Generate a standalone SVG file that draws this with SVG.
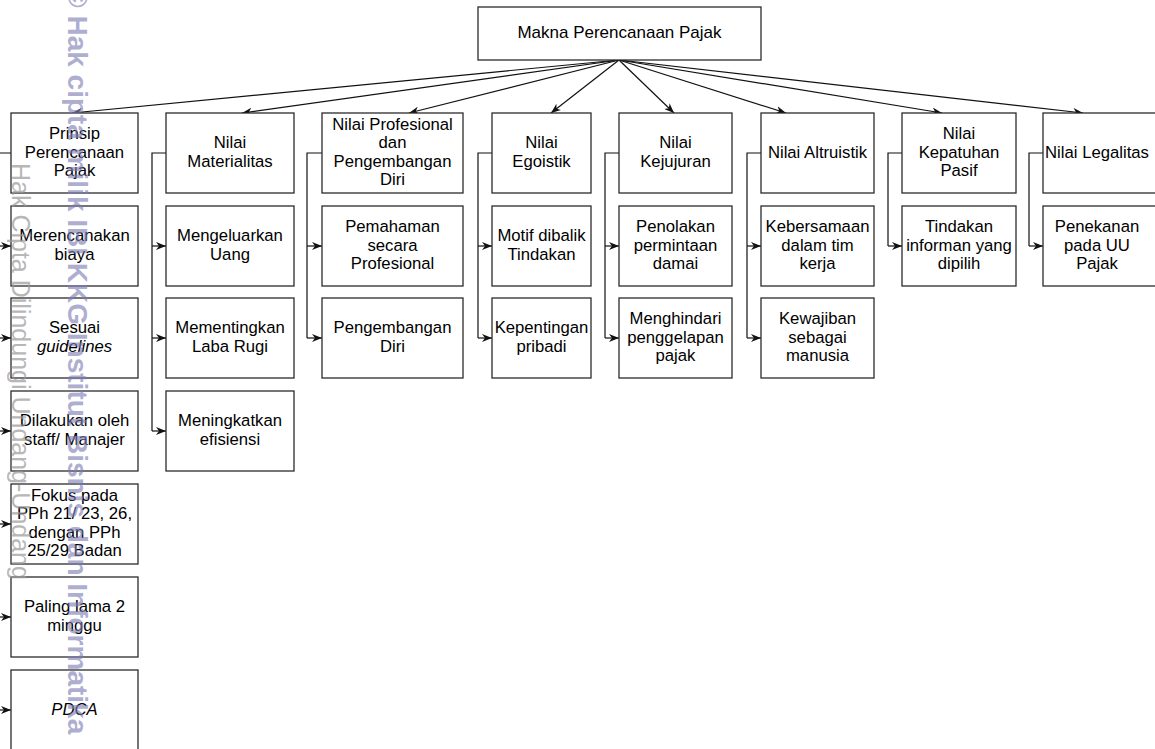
<svg xmlns="http://www.w3.org/2000/svg" width="1155" height="749" viewBox="0 0 1155 749">
<style>
  .box { fill: #ffffff; stroke: #2b2b2b; stroke-width: 1.3; }
  .t { font-family: "Liberation Sans", Arial, Helvetica, sans-serif; font-size: 16.7px; fill: #000000; text-anchor: middle; }
  .it { font-style: italic; }
  .edge { fill: none; stroke: #111111; stroke-width: 1.2; }
  .wm1 { font-family: "Liberation Sans", Arial, sans-serif; font-size: 28px; font-weight: bold; fill: #7d7db5; opacity: 0.62; }
  .wm2 { font-family: "Liberation Sans", Arial, sans-serif; font-size: 25px; fill: #9a9a9a; opacity: 0.7; }
</style>
<defs>
  <marker id="arr" viewBox="0 0 10 8" refX="10" refY="4" markerWidth="10" markerHeight="8" markerUnits="userSpaceOnUse" orient="auto">
    <path d="M0,0 L10,4 L0,8 L3,4 Z" fill="#111"/>
  </marker>
</defs>
<rect x="0" y="0" width="1155" height="749" fill="#ffffff"/>

<g id="connectors">
  <line class="edge" x1="619" y1="60" x2="72" y2="113" marker-end="url(#arr)"/>
  <line class="edge" x1="619" y1="60" x2="242" y2="113" marker-end="url(#arr)"/>
  <line class="edge" x1="619" y1="60" x2="409" y2="113" marker-end="url(#arr)"/>
  <line class="edge" x1="619" y1="60" x2="551" y2="113" marker-end="url(#arr)"/>
  <line class="edge" x1="619" y1="60" x2="674" y2="113" marker-end="url(#arr)"/>
  <line class="edge" x1="619" y1="60" x2="786" y2="113" marker-end="url(#arr)"/>
  <line class="edge" x1="619" y1="60" x2="942" y2="113" marker-end="url(#arr)"/>
  <line class="edge" x1="619" y1="60" x2="1083" y2="113" marker-end="url(#arr)"/>

  <path class="edge" d="M11,153 H-5 V710"/>
  <path class="edge" d="M-5,246 H11" marker-end="url(#arr)"/>
  <path class="edge" d="M-5,338 H11" marker-end="url(#arr)"/>
  <path class="edge" d="M-5,431 H11" marker-end="url(#arr)"/>
  <path class="edge" d="M-5,524 H11" marker-end="url(#arr)"/>
  <path class="edge" d="M-5,617 H11" marker-end="url(#arr)"/>
  <path class="edge" d="M-5,710 H11" marker-end="url(#arr)"/>

  <path class="edge" d="M166,153 H152 V431"/>
  <path class="edge" d="M152,246 H166" marker-end="url(#arr)"/>
  <path class="edge" d="M152,338 H166" marker-end="url(#arr)"/>
  <path class="edge" d="M152,431 H166" marker-end="url(#arr)"/>

  <path class="edge" d="M322,153 H307 V338"/>
  <path class="edge" d="M307,246 H322" marker-end="url(#arr)"/>
  <path class="edge" d="M307,338 H322" marker-end="url(#arr)"/>

  <path class="edge" d="M492,153 H478 V338"/>
  <path class="edge" d="M478,246 H492" marker-end="url(#arr)"/>
  <path class="edge" d="M478,338 H492" marker-end="url(#arr)"/>

  <path class="edge" d="M619,153 H605 V338"/>
  <path class="edge" d="M605,246 H619" marker-end="url(#arr)"/>
  <path class="edge" d="M605,338 H619" marker-end="url(#arr)"/>

  <path class="edge" d="M761,153 H747 V338"/>
  <path class="edge" d="M747,246 H761" marker-end="url(#arr)"/>
  <path class="edge" d="M747,338 H761" marker-end="url(#arr)"/>

  <path class="edge" d="M902,153 H888 V246"/>
  <path class="edge" d="M888,246 H902" marker-end="url(#arr)"/>

  <path class="edge" d="M1043,153 H1029 V246"/>
  <path class="edge" d="M1029,246 H1043" marker-end="url(#arr)"/>
</g>

<g id="n-root">
  <rect class="box" x="478" y="7" width="283" height="53"/>
  <text class="t" x="619.5" y="38" style="font-size:17px">Makna Perencanaan Pajak</text>
</g>

<g id="n-prinsip">
  <rect class="box" x="11" y="113" width="127" height="80"/>
  <text class="t" y="139"><tspan x="74.5">Prinsip</tspan><tspan x="74.5" dy="18.5">Perencanaan</tspan><tspan x="74.5" dy="18.5">Pajak</tspan></text>
</g>
<g id="n-merencanakan">
  <rect class="box" x="11" y="206" width="127" height="80"/>
  <text class="t" y="241.25"><tspan x="74.5">Merencanakan</tspan><tspan x="74.5" dy="18.5">biaya</tspan></text>
</g>
<g id="n-sesuai">
  <rect class="box" x="11" y="298" width="127" height="80"/>
  <text class="t" y="333.25"><tspan x="74.5">Sesuai</tspan><tspan x="74.5" dy="18.5" class="it">guidelines</tspan></text>
</g>
<g id="n-dilakukan">
  <rect class="box" x="11" y="391" width="127" height="80"/>
  <text class="t" y="426.25"><tspan x="74.5">Dilakukan oleh</tspan><tspan x="74.5" dy="18.5">staff/ Manajer</tspan></text>
</g>
<g id="n-fokus">
  <rect class="box" x="11" y="484" width="127" height="80"/>
  <text class="t" y="500.75"><tspan x="74.5">Fokus pada</tspan><tspan x="74.5" dy="18.5">PPh 21/ 23, 26,</tspan><tspan x="74.5" dy="18.5">dengan PPh</tspan><tspan x="74.5" dy="18.5">25/29 Badan</tspan></text>
</g>
<g id="n-paling">
  <rect class="box" x="11" y="577" width="127" height="80"/>
  <text class="t" y="612.25"><tspan x="74.5">Paling lama 2</tspan><tspan x="74.5" dy="18.5">minggu</tspan></text>
</g>
<g id="n-pdca">
  <rect class="box" x="11" y="670" width="127" height="85"/>
  <text class="t it" x="74.5" y="714.5">PDCA</text>
</g>

<g id="n-materialitas">
  <rect class="box" x="166" y="113" width="128" height="80"/>
  <text class="t" y="148.25"><tspan x="230">Nilai</tspan><tspan x="230" dy="18.5">Materialitas</tspan></text>
</g>
<g id="n-mengeluarkan">
  <rect class="box" x="166" y="206" width="128" height="80"/>
  <text class="t" y="241.25"><tspan x="230">Mengeluarkan</tspan><tspan x="230" dy="18.5">Uang</tspan></text>
</g>
<g id="n-mementingkan">
  <rect class="box" x="166" y="298" width="128" height="80"/>
  <text class="t" y="333.25"><tspan x="230">Mementingkan</tspan><tspan x="230" dy="18.5">Laba Rugi</tspan></text>
</g>
<g id="n-meningkatkan">
  <rect class="box" x="166" y="391" width="128" height="80"/>
  <text class="t" y="426.25"><tspan x="230">Meningkatkan</tspan><tspan x="230" dy="18.5">efisiensi</tspan></text>
</g>

<g id="n-profesional">
  <rect class="box" x="322" y="113" width="141" height="80"/>
  <text class="t" y="129.75"><tspan x="392.5">Nilai Profesional</tspan><tspan x="392.5" dy="18.5">dan</tspan><tspan x="392.5" dy="18.5">Pengembangan</tspan><tspan x="392.5" dy="18.5">Diri</tspan></text>
</g>
<g id="n-pemahaman">
  <rect class="box" x="322" y="206" width="141" height="80"/>
  <text class="t" y="232"><tspan x="392.5">Pemahaman</tspan><tspan x="392.5" dy="18.5">secara</tspan><tspan x="392.5" dy="18.5">Profesional</tspan></text>
</g>
<g id="n-pengembangan">
  <rect class="box" x="322" y="298" width="141" height="80"/>
  <text class="t" y="333.25"><tspan x="392.5">Pengembangan</tspan><tspan x="392.5" dy="18.5">Diri</tspan></text>
</g>

<g id="n-egoistik">
  <rect class="box" x="492" y="113" width="99" height="80"/>
  <text class="t" y="148.25"><tspan x="541.5">Nilai</tspan><tspan x="541.5" dy="18.5">Egoistik</tspan></text>
</g>
<g id="n-motif">
  <rect class="box" x="492" y="206" width="99" height="80"/>
  <text class="t" y="241.25"><tspan x="541.5">Motif dibalik</tspan><tspan x="541.5" dy="18.5">Tindakan</tspan></text>
</g>
<g id="n-kepentingan">
  <rect class="box" x="492" y="298" width="99" height="80"/>
  <text class="t" y="333.25"><tspan x="541.5">Kepentingan</tspan><tspan x="541.5" dy="18.5">pribadi</tspan></text>
</g>

<g id="n-kejujuran">
  <rect class="box" x="619" y="113" width="113" height="80"/>
  <text class="t" y="148.25"><tspan x="675.5">Nilai</tspan><tspan x="675.5" dy="18.5">Kejujuran</tspan></text>
</g>
<g id="n-penolakan">
  <rect class="box" x="619" y="206" width="113" height="80"/>
  <text class="t" y="232"><tspan x="675.5">Penolakan</tspan><tspan x="675.5" dy="18.5">permintaan</tspan><tspan x="675.5" dy="18.5">damai</tspan></text>
</g>
<g id="n-menghindari">
  <rect class="box" x="619" y="298" width="113" height="80"/>
  <text class="t" y="324"><tspan x="675.5">Menghindari</tspan><tspan x="675.5" dy="18.5">penggelapan</tspan><tspan x="675.5" dy="18.5">pajak</tspan></text>
</g>

<g id="n-altruistik">
  <rect class="box" x="761" y="113" width="113" height="80"/>
  <text class="t" x="817.5" y="157.5">Nilai Altruistik</text>
</g>
<g id="n-kebersamaan">
  <rect class="box" x="761" y="206" width="113" height="80"/>
  <text class="t" y="232"><tspan x="817.5">Kebersamaan</tspan><tspan x="817.5" dy="18.5">dalam tim</tspan><tspan x="817.5" dy="18.5">kerja</tspan></text>
</g>
<g id="n-kewajiban">
  <rect class="box" x="761" y="298" width="113" height="80"/>
  <text class="t" y="324"><tspan x="817.5">Kewajiban</tspan><tspan x="817.5" dy="18.5">sebagai</tspan><tspan x="817.5" dy="18.5">manusia</tspan></text>
</g>

<g id="n-kepatuhan">
  <rect class="box" x="902" y="113" width="114" height="80"/>
  <text class="t" y="139"><tspan x="959">Nilai</tspan><tspan x="959" dy="18.5">Kepatuhan</tspan><tspan x="959" dy="18.5">Pasif</tspan></text>
</g>
<g id="n-tindakan">
  <rect class="box" x="902" y="206" width="114" height="80"/>
  <text class="t" y="232"><tspan x="959">Tindakan</tspan><tspan x="959" dy="18.5">informan yang</tspan><tspan x="959" dy="18.5">dipilih</tspan></text>
</g>

<g id="n-legalitas">
  <rect class="box" x="1043" y="113" width="116" height="80"/>
  <text class="t" x="1097" y="157.5">Nilai Legalitas</text>
</g>
<g id="n-penekanan">
  <rect class="box" x="1043" y="206" width="116" height="80"/>
  <text class="t" y="232"><tspan x="1097">Penekanan</tspan><tspan x="1097" dy="18.5">pada UU</tspan><tspan x="1097" dy="18.5">Pajak</tspan></text>
</g>

<g id="watermark">
  <text class="wm1" transform="translate(68,-13) rotate(90)">© Hak cipta milik IBI KKG Institut Bisnis dan Informatika</text>
  <text class="wm2" transform="translate(12,163) rotate(90)">Hak Cipta Dilindungi Undang-Undang</text>
</g>
</svg>
